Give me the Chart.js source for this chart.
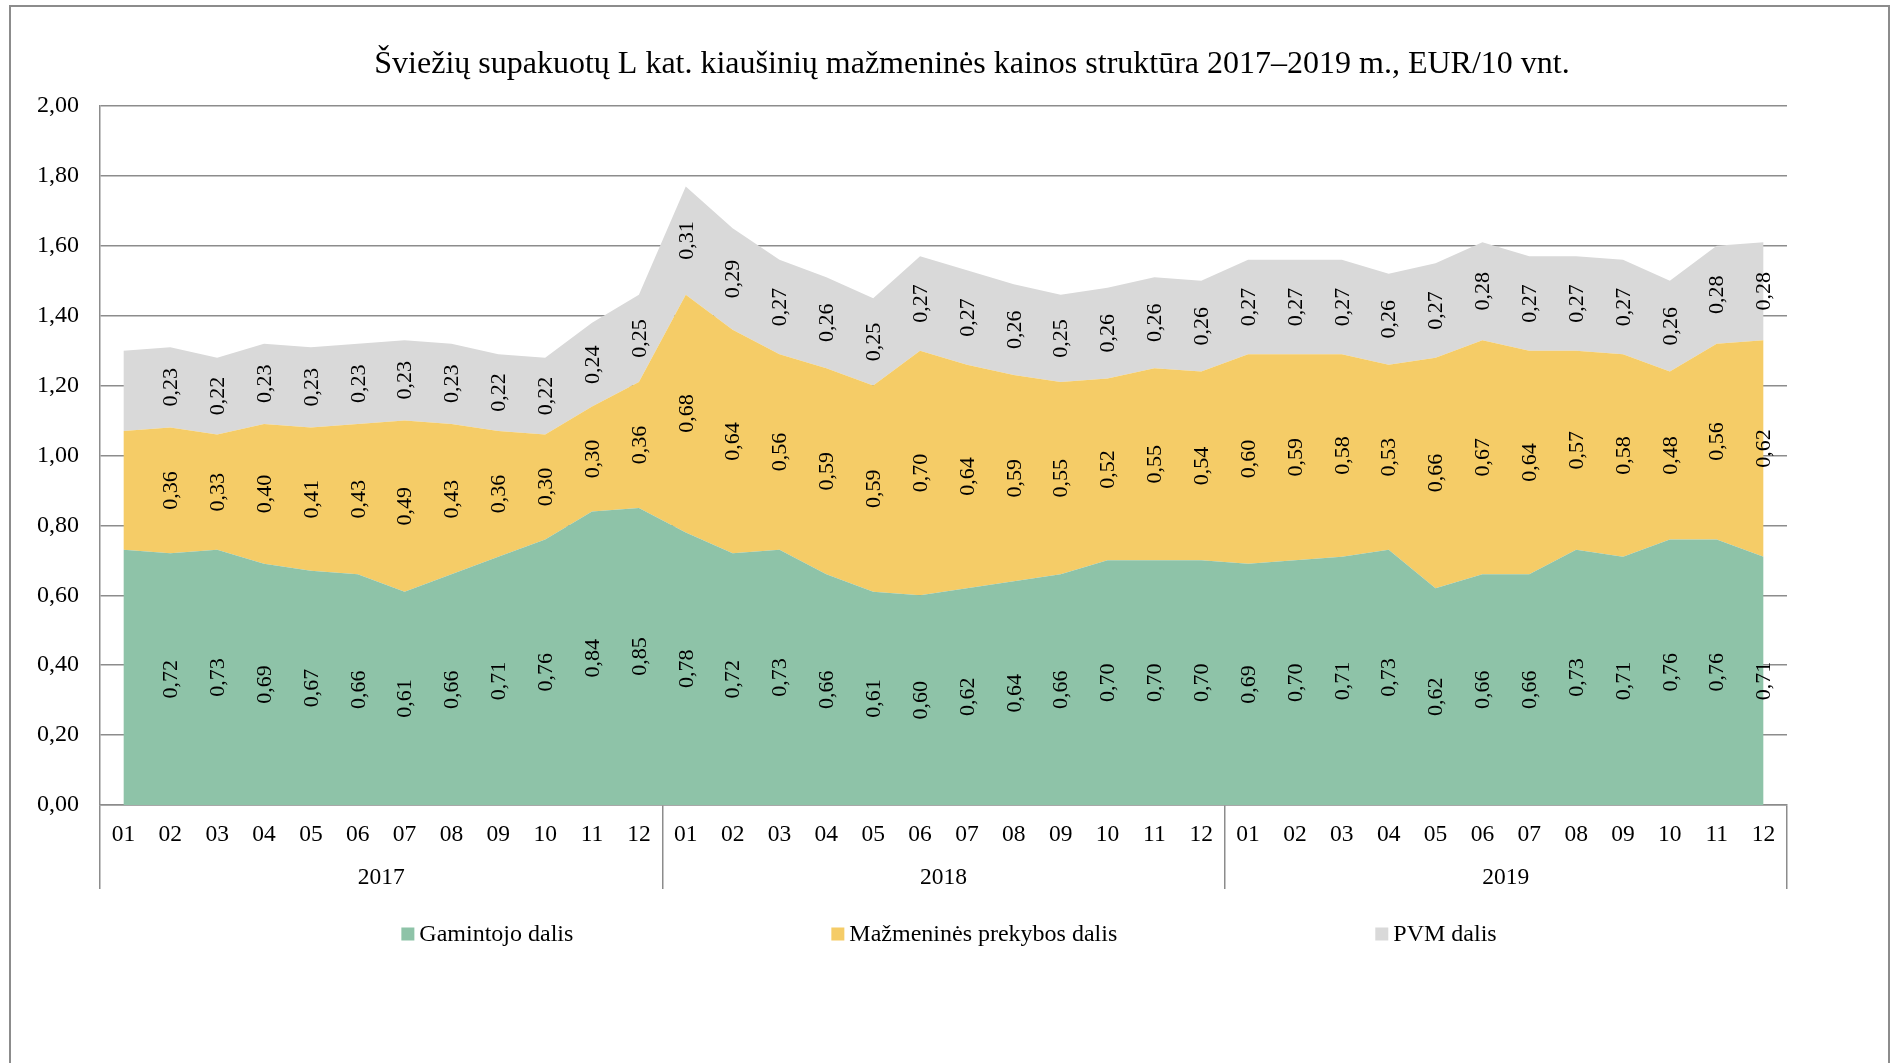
<!DOCTYPE html>
<html>
<head>
<meta charset="utf-8">
<script src="https://cdn.jsdelivr.net/npm/chart.js@4.4.0/dist/chart.umd.min.js"></script>
<style>
  html, body { margin: 0; padding: 0; background: #fff; overflow: hidden; }
  #wrap { width: 1892px; height: 1063px; position: relative; }
  canvas { display: block; }
</style>
</head>
<body>
<div id="wrap"><canvas id="c" width="1892" height="1063"></canvas></div>
<script>
// ---------- DATA ----------
const TITLE = "Šviežių supakuotų L kat. kiaušinių mažmeninės kainos struktūra 2017–2019 m., EUR/10 vnt.";
const years = ["2017", "2018", "2019"];
const months = ["01","02","03","04","05","06","07","08","09","10","11","12"];
const categories = years.flatMap(() => months);
const seriesNames = ["Gamintojo dalis", "Mažmeninės prekybos dalis", "PVM dalis"];
const producer = [0.73,0.72,0.73,0.69,0.67,0.66,0.61,0.66,0.71,0.76,0.84,0.85,
                  0.78,0.72,0.73,0.66,0.61,0.60,0.62,0.64,0.66,0.70,0.70,0.70,
                  0.69,0.70,0.71,0.73,0.62,0.66,0.66,0.73,0.71,0.76,0.76,0.71];
const retail   = [0.34,0.36,0.33,0.40,0.41,0.43,0.49,0.43,0.36,0.30,0.30,0.36,
                  0.68,0.64,0.56,0.59,0.59,0.70,0.64,0.59,0.55,0.52,0.55,0.54,
                  0.60,0.59,0.58,0.53,0.66,0.67,0.64,0.57,0.58,0.48,0.56,0.62];
const vat      = [0.23,0.23,0.22,0.23,0.23,0.23,0.23,0.23,0.22,0.22,0.24,0.25,
                  0.31,0.29,0.27,0.26,0.25,0.27,0.27,0.26,0.25,0.26,0.26,0.26,
                  0.27,0.27,0.27,0.26,0.27,0.28,0.27,0.27,0.27,0.26,0.28,0.28];
const yTickValues = [0, 0.2, 0.4, 0.6, 0.8, 1.0, 1.2, 1.4, 1.6, 1.8, 2.0];
const unlabeledPoints = [0]; // the first month carries no data labels in the original

// ---------- STYLE ----------
const FONT = '"Liberation Serif", "Times New Roman", serif';
const COLORS = ["#8EC3A8", "#F5CC67", "#D9D9D9"];
const GRID = "#8c8c8c";
const fmt = v => v.toFixed(2).replace(".", ",");

const sepColor = c => (c.index === undefined || c.index % months.length === 0) ? GRID : "rgba(0,0,0,0)";

const decor = {
  id: "decor",
  beforeDraw(chart) {
    const ctx = chart.ctx;
    ctx.save();
    ctx.fillStyle = "#fff";
    ctx.fillRect(0, 0, chart.width, chart.height);
    ctx.strokeStyle = GRID;
    ctx.lineWidth = 2;
    ctx.strokeRect(10, 6, chart.width - 13, chart.height + 20);
    ctx.restore();
  },
  afterDraw(chart) {
    const ctx = chart.ctx;
    ctx.save();
    // title
    ctx.fillStyle = "#000";
    ctx.textBaseline = "middle";
    ctx.textAlign = "center";
    ctx.font = "32px " + FONT;
    ctx.fillText(TITLE, chart.width / 2 + 26, 65);
    // legend
    ctx.font = "24px " + FONT;
    ctx.textAlign = "left";
    const box = 13, gap = 5, spacing = 258, ly = 934;
    const widths = seriesNames.map(n => box + gap + ctx.measureText(n).width);
    const total = widths.reduce((a, b) => a + b, 0) + spacing * (widths.length - 1);
    let x = chart.width / 2 + 3 - total / 2;
    seriesNames.forEach((n, i) => {
      ctx.fillStyle = COLORS[i];
      ctx.fillRect(x, ly - box / 2, box, box);
      ctx.fillStyle = "#000";
      ctx.fillText(n, x + box + gap, ly + 1);
      x += widths[i] + spacing;
    });
    ctx.restore();
  }
};

const valueLabels = {
  id: "valueLabels",
  afterDatasetsDraw(chart) {
    const ctx = chart.ctx;
    const ys = chart.scales.y;
    ctx.save();
    ctx.font = "22px " + FONT;
    ctx.fillStyle = "#000";
    ctx.textAlign = "center";
    ctx.textBaseline = "middle";
    chart.data.datasets.forEach((ds, d) => {
      const meta = chart.getDatasetMeta(d);
      const below = d > 0 ? chart.getDatasetMeta(d - 1) : null;
      meta.data.forEach((pt, i) => {
        if (unlabeledPoints.includes(i)) return;
        const yb = below ? below.data[i].y : ys.getPixelForValue(0);
        const yc = (pt.y + yb) / 2;
        ctx.save();
        ctx.translate(pt.x, yc);
        ctx.rotate(-Math.PI / 2);
        ctx.fillText(fmt(ds.data[i]), 0, 1);
        ctx.restore();
      });
    });
    ctx.restore();
  }
};

const seriesData = [producer, retail, vat];

new Chart(document.getElementById("c"), {
  type: "line",
  data: {
    labels: categories,
    datasets: seriesData.map((arr, i) => ({
      label: seriesNames[i],
      data: arr,
      xAxisID: "x",
      yAxisID: "y",
      backgroundColor: COLORS[i],
      borderColor: COLORS[i],
      borderWidth: 0,
      pointRadius: 0,
      fill: i === 0 ? "origin" : "-1",
      tension: 0
    }))
  },
  options: {
    responsive: false,
    animation: false,
    layout: { padding: { left: 0, right: 105, top: 106, bottom: 174 } },
    plugins: {
      legend: { display: false },
      title: { display: false },
      tooltip: { enabled: false }
    },
    scales: {
      x: {
        type: "category",
        offset: true,
        weight: 0,
        grid: { offset: true, drawOnChartArea: false, drawTicks: true, tickLength: 50,
                color: sepColor, tickColor: sepColor, lineWidth: 1.5 },
        border: { display: true, color: GRID, width: 1.5 },
        ticks: { autoSkip: false, maxRotation: 0, minRotation: 0, padding: -34.5,
                 color: "#000", font: { family: FONT, size: 23.5 } },
        afterFit(s) { s.height = 50; }
      },
      x2: {
        type: "category",
        labels: years,
        position: "bottom",
        offset: true,
        weight: 1,
        grid: { offset: true, drawOnChartArea: false, drawTicks: true, tickLength: 34,
                color: GRID, tickColor: GRID, lineWidth: 1.5 },
        border: { display: false },
        ticks: { autoSkip: false, maxRotation: 0, padding: -25,
                 color: "#000", font: { family: FONT, size: 23.5 } },
        afterFit(s) { s.height = 34; }
      },
      y: {
        stacked: true,
        min: 0,
        max: 2,
        grid: { drawTicks: false, color: GRID, lineWidth: 1.5 },
        border: { display: true, color: GRID, width: 1.5 },
        ticks: { padding: 21, color: "#000", font: { family: FONT, size: 24 },
                 callback: v => fmt(v) },
        afterBuildTicks(s) { s.ticks = yTickValues.map(v => ({ value: v })); },
        afterFit(s) { s.width = 100; }
      }
    }
  },
  plugins: [decor, valueLabels]
});
</script>
</body>
</html>
